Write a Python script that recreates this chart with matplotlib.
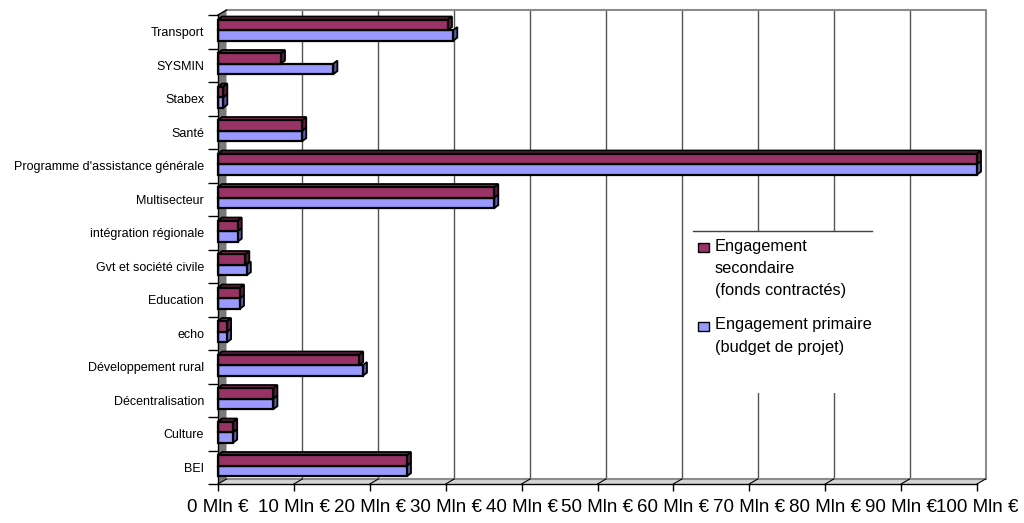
import matplotlib
matplotlib.use("Agg")
import matplotlib.pyplot as plt
from matplotlib.patches import Polygon, Rectangle
from matplotlib.lines import Line2D
import numpy as np

plt.rcParams['font.family'] = ['Liberation Sans', 'DejaVu Sans']

# sectors, bottom to top
categories = ["BEI", "Culture", "Décentralisation", "Développement rural", "echo",
              "Education", "Gvt et société civile", "intégration régionale",
              "Multisecteur", "Programme d'assistance générale", "Santé",
              "Stabex", "SYSMIN", "Transport"]
# Mln €
secondaire = [24.9, 2.0, 7.3, 18.6, 1.2, 2.9, 3.6, 2.6, 36.4, 100.0, 11.1, 0.7, 8.3, 30.3]
primaire = [24.9, 2.0, 7.3, 19.1, 1.2, 2.9, 3.8, 2.6, 36.4, 100.0, 11.1, 0.7, 15.2, 31.0]
xticks = list(range(0, 101, 10))
xlabels = [f"{v} Mln €" for v in xticks]
legend_sec = ["Engagement", "secondaire", "(fonds contractés)"]
legend_prim = ["Engagement primaire", "(budget de projet)"]

W, H = 1024, 523
fig = plt.figure(figsize=(W / 100, H / 100), dpi=100, facecolor="white")
ax = fig.add_axes([218 / W, 39 / H, 759 / W, 469 / H])
ax.set_xlim(0, 100)
ax.set_ylim(-0.5, len(categories) - 0.5)
ymin, ymax = -0.5, len(categories) - 0.5

# fake 3d: wall depth and bar depth in data units
DX, DY = 8.5 / 7.59, 5 / 33.5
bdx, bdy = 4 / 7.59, 3 / 33.5
hb = 0.315

# back wall
for v in xticks[1:-1]:
    ax.plot([v + DX, v + DX], [ymin + DY, ymax + DY], color="#555555", lw=1,
            zorder=1, clip_on=False)
ax.plot([DX, 100 + DX, 100 + DX], [ymax + DY, ymax + DY, ymin + DY],
        color="#8c8c8c", lw=1.5, zorder=1, clip_on=False)

# side wall and floor
ax.add_patch(Polygon([(0, ymin), (0, ymax), (DX, ymax + DY), (DX, ymin + DY)],
                     closed=True, facecolor="#7a7a7a", edgecolor="none",
                     zorder=2, clip_on=False))
ax.plot([0, DX], [ymax, ymax + DY], color="black", lw=1, zorder=2, clip_on=False)
ax.add_patch(Polygon([(0, ymin), (100, ymin), (100 + DX, ymin + DY), (DX, ymin + DY)],
                     closed=True, facecolor="#d4d4d4", edgecolor="none",
                     zorder=2, clip_on=False))
ax.plot([DX, 100 + DX], [ymin + DY, ymin + DY], color="#8c8c8c", lw=1.5,
        zorder=2, clip_on=False)
for v in xticks:
    ax.plot([v, v + DX], [ymin, ymin + DY], color="black", lw=0.8, zorder=2,
            clip_on=False)

# bars
y = np.arange(len(categories))
y_sec = y + 0.05
y_prim = y_sec - hb


def faces(vals, bottoms, side_col, top_col, z, top=True):
    for v, b in zip(vals, bottoms):
        t = b + hb
        ax.add_patch(Polygon([(v, b), (v, t), (v + bdx, t + bdy), (v + bdx, b + bdy)],
                             closed=True, facecolor=side_col, edgecolor="black",
                             lw=1.3, zorder=z, clip_on=False))
        if top:
            ax.add_patch(Polygon([(0, t), (v, t), (v + bdx, t + bdy), (bdx, t + bdy)],
                                 closed=True, facecolor=top_col, edgecolor="black",
                                 lw=1.3, zorder=z, clip_on=False))


faces(primaire, y_prim, "#5c5ca8", "#7a7acc", 3, top=False)
ax.barh(y_prim, primaire, height=hb, align="edge", color="#9999ff",
        edgecolor="black", lw=1.6, zorder=4, clip_on=False)
faces(secondaire, y_sec, "#5c1f3d", "#7a2952", 5)
ax.barh(y_sec, secondaire, height=hb, align="edge", color="#993366",
        edgecolor="black", lw=1.6, zorder=6, clip_on=False)

# axes
for s in ["top", "right"]:
    ax.spines[s].set_visible(False)
for s in ["left", "bottom"]:
    ax.spines[s].set_color("black")
    ax.spines[s].set_linewidth(1)
    ax.spines[s].set_zorder(7)

ax.set_yticks(np.arange(ymin, ymax + 0.5, 1))
ax.set_yticklabels([])
ax.set_yticks(y, minor=True)
ax.set_yticklabels(categories, minor=True, fontsize=9)
ax.tick_params(axis="y", which="major", length=7.2, width=1, direction="out")
ax.tick_params(axis="y", which="minor", length=0, pad=10)

ax.set_xticks(xticks)
ax.set_xticklabels(xlabels, fontsize=13.5)
ax.tick_params(axis="x", length=5, width=1, direction="out", pad=6)
ax.patch.set_visible(False)


def px(x, yy):
    return x / W, 1 - yy / H


# legend
fig.add_artist(Rectangle(px(693, 393), 179 / W, 162 / H, transform=fig.transFigure,
                         facecolor="white", edgecolor="none", zorder=10))
fig.add_artist(Line2D([693 / W, 872 / W], [1 - 231 / H] * 2, transform=fig.transFigure,
                      color="#404040", lw=1, zorder=11))
fig.add_artist(Rectangle(px(698, 252), 11 / W, 9 / H, transform=fig.transFigure,
                         facecolor="#993366", edgecolor="black", lw=1, zorder=11))
fig.add_artist(Rectangle(px(698, 331), 11 / W, 9 / H, transform=fig.transFigure,
                         facecolor="#9999ff", edgecolor="black", lw=1, zorder=11))
for i, s in enumerate(legend_sec):
    fig.text(*px(715, 246 + 22.5 * i), s, fontsize=11.8, va="center", zorder=12)
for i, s in enumerate(legend_prim):
    fig.text(*px(715, 325 + 22.5 * i), s, fontsize=11.8, va="center", zorder=12)

fig.savefig("out.png", dpi=100)
